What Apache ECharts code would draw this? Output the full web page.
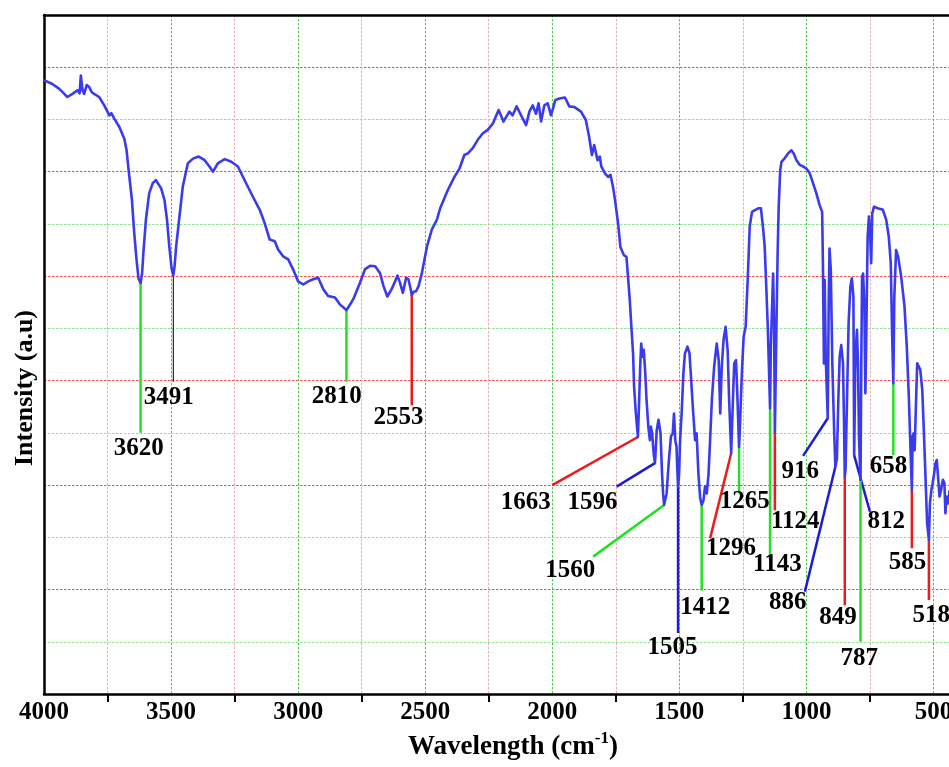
<!DOCTYPE html>
<html>
<head>
<meta charset="utf-8">
<title>FTIR spectrum</title>
<script src="https://cdn.jsdelivr.net/npm/echarts@6/dist/echarts.min.js"></script>
<style>
  html, body { margin: 0; padding: 0; background: #fff; }
  #chart { width: 949px; height: 767px; }
</style>
</head>
<body>
<div id="chart"></div>
<script>
// Spectrum: wavenumber (cm-1) and intensity (a.u.)
const wavenumber = [
  4000,3967,3941,3922,3908,3888,3868,3860,3855,3848,
  3842,3832,3822,3812,3803,3783,3763,3743,3735,3724,
  3704,3684,3675,3667,3654,3645,3636,3628,3620,3614,
  3609,3599,3586,3572,3560,3553,3539,3526,3516,3507,
  3498,3491,3486,3480,3467,3454,3434,3414,3391,3368,
  3349,3335,3316,3289,3263,3237,3211,3178,3151,3132,
  3112,3092,3079,3059,3039,3020,3000,2980,2960,2941,
  2921,2901,2882,2855,2836,2810,2803,2783,2757,2737,
  2717,2697,2678,2664,2649,2632,2609,2599,2588,2575,
  2566,2557,2553,2545,2536,2526,2513,2493,2474,2454,
  2441,2411,2385,2365,2346,2332,2313,2293,2274,2254,
  2234,2211,2192,2169,2156,2140,2123,2103,2090,2077,
  2064,2054,2044,2031,2018,2005,1988,1972,1950,1933,
  1914,1887,1868,1855,1844,1835,1822,1813,1807,1793,
  1780,1771,1761,1754,1741,1732,1718,1708,1701,1695,
  1688,1682,1678,1671,1663,1659,1654,1650,1645,1640,
  1634,1629,1622,1616,1612,1607,1601,1596,1593,1589,
  1582,1574,1568,1564,1560,1550,1541,1533,1526,1521,
  1516,1511,1508,1505,1501,1497,1491,1484,1478,1468,
  1460,1455,1447,1438,1432,1425,1418,1412,1405,1399,
  1392,1385,1379,1372,1363,1353,1345,1339,1333,1326,
  1318,1310,1304,1296,1290,1284,1277,1272,1265,1262,
  1254,1247,1239,1231,1223,1214,1201,1188,1179,1171,
  1164,1159,1152,1143,1140,1135,1131,1127,1124,1118,
  1113,1109,1103,1098,1085,1072,1059,1050,1039,1026,
  1013,1000,987,974,961,948,938,935,931,928,
  924,916,912,909,904,898,891,886,880,874,
  869,863,856,852,849,846,840,834,827,821,
  815,812,808,805,801,797,793,787,784,781,
  777,772,768,764,759,754,749,745,741,734,
  719,699,686,676,668,663,658,654,647,639,
  627,614,605,597,592,585,582,578,574,568,
  564,559,552,544,538,531,525,518,514,508,
  503,497,492,487,482,476,470,463,457,453,
  448,441,437
];
const intensity = [
  11.75,11.68,11.59,11.50,11.43,11.49,11.56,11.50,11.84,11.55,
  11.49,11.66,11.62,11.52,11.49,11.43,11.27,11.08,11.12,11.02,
  10.86,10.63,10.41,10.03,9.46,8.83,8.32,7.95,7.87,8.05,
  8.44,9.08,9.59,9.78,9.84,9.81,9.68,9.46,9.08,8.57,
  8.15,8.02,8.20,8.57,9.14,9.71,10.16,10.25,10.29,10.22,
  10.10,10.00,10.16,10.24,10.19,10.10,9.84,9.52,9.27,9.02,
  8.70,8.67,8.51,8.38,8.32,8.13,7.90,7.84,7.90,7.94,
  7.97,7.75,7.62,7.59,7.46,7.35,7.40,7.56,7.87,8.13,
  8.20,8.19,8.06,7.81,7.61,7.75,8.01,7.87,7.68,7.97,
  7.94,7.75,7.64,7.70,7.71,7.81,8.06,8.57,8.89,9.08,
  9.30,9.65,9.90,10.06,10.32,10.35,10.45,10.61,10.73,10.80,
  10.92,11.18,10.96,11.15,11.08,11.25,11.08,10.89,11.15,11.27,
  11.11,11.31,10.96,11.27,11.31,11.08,11.37,11.40,11.42,11.25,
  11.24,11.15,10.99,10.67,10.32,10.51,10.22,10.29,10.10,9.97,
  9.90,9.94,9.71,9.49,9.01,8.56,8.40,8.37,7.93,7.54,
  6.97,6.52,5.88,5.37,4.92,5.49,6.27,6.71,6.46,6.59,
  6.14,5.63,5.12,4.86,5.12,4.99,4.60,4.42,4.67,5.05,
  5.25,4.99,4.22,3.84,3.62,3.84,4.48,4.93,4.99,5.37,
  4.86,4.73,4.30,3.96,4.20,4.86,5.37,6.14,6.52,6.65,
  6.52,6.14,5.50,4.86,4.99,4.22,3.75,3.62,3.71,3.97,
  3.84,4.22,4.86,5.63,6.27,6.71,6.39,5.37,6.27,6.78,
  7.03,6.59,5.63,4.61,5.50,6.33,6.39,5.76,4.73,5.05,
  6.14,6.84,7.03,7.93,8.95,9.23,9.27,9.30,9.30,8.95,
  8.56,7.93,7.03,5.47,6.65,7.42,8.05,7.03,5.02,7.00,
  8.50,9.33,10.03,10.19,10.26,10.35,10.41,10.35,10.22,10.13,
  10.10,10.06,9.97,9.78,9.59,9.36,9.23,8.25,6.33,7.93,
  6.46,5.28,7.61,8.53,8.12,6.33,5.06,4.35,4.50,5.69,
  6.46,6.68,6.33,5.20,4.16,4.30,5.69,7.10,7.80,7.96,
  7.61,4.57,6.20,6.65,6.97,6.33,4.90,4.10,6.33,7.99,
  8.05,7.48,5.76,6.97,8.76,9.14,8.76,8.25,9.20,9.33,
  9.30,9.27,9.08,8.76,8.25,6.97,5.95,7.61,8.50,8.37,
  7.99,7.42,6.65,5.70,4.93,3.90,4.93,4.99,4.67,5.70,
  6.33,6.36,6.21,5.82,5.06,4.10,3.27,2.95,3.65,3.91,
  4.04,4.23,4.42,4.48,4.16,3.78,3.91,4.10,4.04,3.46,
  3.78,3.65,3.90
];

// Assigned bands: wavenumber and the intensity where each leader starts
const peakLabels = [3620, 3491, 2810, 2553, 1663, 1596, 1560, 1505, 1412, 1296, 1265,
                    1143, 1124, 916, 886, 849, 812, 787, 658, 585, 518];
const peakDepth  = [7.87, 8.02, 7.35, 7.64, 4.92, 4.42, 3.62, 3.96, 3.62, 4.61, 4.73,
                    5.47, 5.02, 5.28, 4.35, 4.16, 4.57, 4.10, 5.95, 3.90, 2.95];

// Leader line ends and label anchors, in axis units
const leaderEndX = [3620, 3491, 2810, 2553, 2000, 1747, 1839, 1505, 1412, 1379, 1265,
                    1143, 1124, 1013, 1006, 849, 750, 787, 658, 585, 518];
const leaderEndY = [5.00, 5.98, 5.98, 5.53, 4.00, 3.97, 2.63, 1.17, 1.98, 2.98, 3.84,
                    2.56, 3.52, 4.56, 1.96, 1.70, 3.49, 1.00, 4.57, 2.79, 1.80];
const labelX     = [3627, 3509, 2848, 2605, 2104, 1842, 1929, 1527, 1398, 1297, 1243,
                    1114, 1044, 1024, 1073, 876, 686, 792, 677, 602, 509];
const labelY     = [4.70, 5.67, 5.70, 5.29, 3.67, 3.67, 2.37, 0.88, 1.65, 2.79, 3.69,
                    2.47, 3.31, 4.26, 1.75, 1.47, 3.30, 0.67, 4.35, 2.52, 1.51];
const leaderKind = ['green','dark','green','red','red','blue','green','blue','green','red','green',
                    'green','red','blue','blue','red','blue','green','green','red','red'];

// Axis ticks
const majorTicks = [4000, 3500, 3000, 2500, 2000, 1500, 1000, 500];
const minorTicks = [3750, 3250, 2750, 2250, 1750, 1250, 750];

const FONT = "'Liberation Serif', 'Times New Roman', serif";
const LEADER_COLORS = { green: '#22e022', red: '#ee1a1a', blue: '#1c1cd6', dark: '#2c2c14' };

const chart = echarts.init(document.getElementById('chart'), null, { renderer: 'canvas' });

const spectrum = wavenumber.map((w, i) => [w, intensity[i]]);

const leaderSeries = peakLabels.map((p, i) => ({
  type: 'line',
  xAxisIndex: 0,
  yAxisIndex: 0,
  symbol: 'none',
  silent: true,
  z: 3,
  data: [[p, peakDepth[i]], [leaderEndX[i], leaderEndY[i]]],
  lineStyle: {
    color: LEADER_COLORS[leaderKind[i]],
    width: leaderKind[i] === 'dark' ? 1.2 : 2.5
  }
}));

const labelSeries = {
  type: 'scatter',
  xAxisIndex: 0,
  yAxisIndex: 0,
  symbolSize: 1,
  silent: true,
  z: 6,
  itemStyle: { color: 'rgba(0,0,0,0)', opacity: 1 },
  data: peakLabels.map((p, i) => ({ name: String(p), value: [labelX[i], labelY[i]] })),
  label: {
    show: true,
    position: 'inside',
    formatter: (d) => d.name,
    color: '#000',
    opacity: 1,
    fontFamily: FONT,
    fontWeight: 'bold',
    fontSize: 25,
    textBorderWidth: 0
  }
};

const option = {
  animation: false,
  backgroundColor: '#fff',
  grid: { left: 44, top: 15, width: 953, height: 679, outerBoundsMode: 'none', containLabel: false },
  xAxis: [
    {
      type: 'value', inverse: true, min: 250, max: 4000, interval: 250,
      position: 'bottom',
      axisLine: { show: true, onZero: false, lineStyle: { color: '#000', width: 2.5 } },
      axisTick: { show: false },
      axisLabel: {
        show: true, margin: 6, color: '#000', fontFamily: FONT, fontWeight: 'bold', fontSize: 25,
        formatter: (v) => (majorTicks.indexOf(v) >= 0 ? String(v) : '')
      },
      splitLine: { show: true, lineStyle: { color: ['#f3a8b0', '#3fd63f'], width: 1, type: [2.5, 1.5] } }
    },
    {
      type: 'value', inverse: true, min: 250, max: 4000, interval: 500,
      position: 'bottom',
      axisLine: { show: false },
      axisTick: { show: true, inside: false, length: 8, customValues: minorTicks, lineStyle: { color: '#000', width: 2 } },
      axisLabel: { show: false },
      splitLine: { show: false }
    },
    {
      type: 'value', inverse: true, min: 250, max: 4000,
      position: 'top',
      axisLine: { show: true, onZero: false, lineStyle: { color: '#000', width: 2.5 } },
      axisTick: { show: false },
      axisLabel: { show: false },
      splitLine: { show: false }
    }
  ],
  yAxis: {
    type: 'value', min: 0, max: 13, interval: 1,
    axisLine: { show: true, onZero: false, lineStyle: { color: '#000', width: 2.5 } },
    axisTick: { show: false },
    axisLabel: { show: false },
    splitLine: { show: true, lineStyle: { color: ['#f05050', '#93e293'], width: 1, type: [2.5, 1.5] } }
  },
  graphic: [
    {
      type: 'text', x: 25, y: 388, rotation: Math.PI / 2, silent: true,
      style: {
        text: 'Intensity (a.u)', fill: '#000',
        font: 'bold 26px ' + FONT,
        align: 'center', verticalAlign: 'middle',
        textAlign: 'center', textVerticalAlign: 'middle'
      }
    },
    {
      type: 'text', x: 513, y: 747, silent: true,
      style: {
        text: '{a|Wavelength (cm}{s|-1}{a|)}',
        align: 'center', verticalAlign: 'middle',
        textAlign: 'center', textVerticalAlign: 'middle',
        rich: {
          a: { fontFamily: FONT, fontWeight: 'bold', fontSize: 27, lineHeight: 34, fill: '#000', color: '#000' },
          s: { fontFamily: FONT, fontWeight: 'bold', fontSize: 17, lineHeight: 18, verticalAlign: 'top', fill: '#000', color: '#000' }
        }
      }
    }
  ],
  series: [
    {
      type: 'line',
      name: 'spectrum',
      xAxisIndex: 0,
      yAxisIndex: 0,
      data: spectrum,
      symbol: 'none',
      silent: true,
      z: 4,
      lineStyle: { color: '#3a3aee', width: 2.6, join: 'round' }
    },
    ...leaderSeries,
    labelSeries
  ]
};

chart.setOption(option);
</script>
</body>
</html>
